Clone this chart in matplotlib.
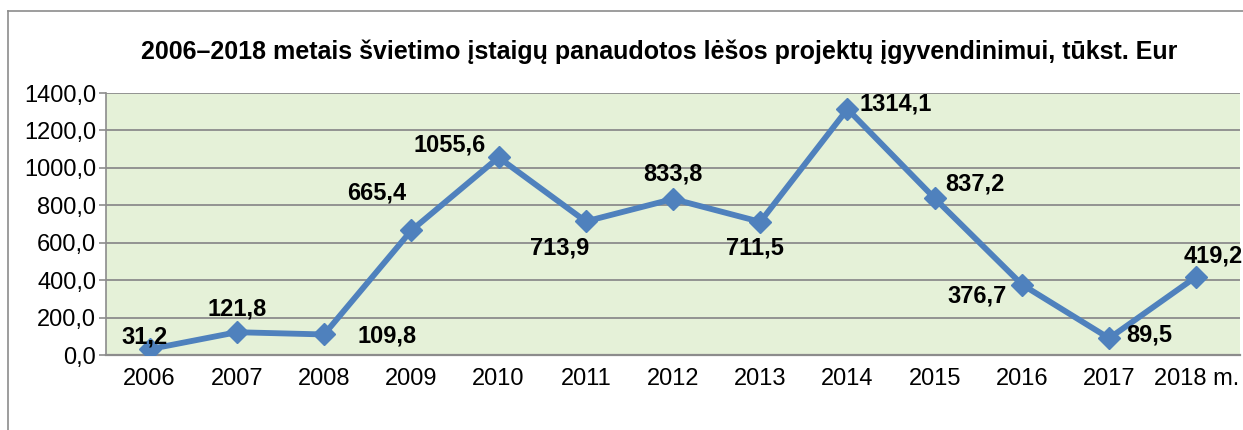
import matplotlib.pyplot as plt
from matplotlib.lines import Line2D

years = ["2006", "2007", "2008", "2009", "2010", "2011", "2012",
         "2013", "2014", "2015", "2016", "2017", "2018 m."]
values = [31.2, 121.8, 109.8, 665.4, 1055.6, 713.9, 833.8,
          711.5, 1314.1, 837.2, 376.7, 89.5, 419.2]
# label offsets from each point, in points (x right, y up)
label_offsets = [(-4, 9), (0, 17), (45, -1), (-25, 27), (-35, 9), (-19, -19),
                 (0, 18), (-4, -19), (35, 4), (29, 10), (-32, -8), (29, 2), (12, 15)]

plt.rcParams['font.family'] = ['Liberation Sans', 'DejaVu Sans']

fig = plt.figure(figsize=(12.43, 4.30), dpi=100)
ax = fig.add_axes([0.0853, 0.1744, 0.9123, 0.6093])
ax.set_facecolor('#E5F1D8')

# outer chart frame (left and top edges visible)
fig.add_artist(Line2D([8/1243, 8/1243], [0, 1 - 11/430], transform=fig.transFigure,
                      color='#8c8c8c', linewidth=1.2))
fig.add_artist(Line2D([8/1243, 1], [1 - 11/430, 1 - 11/430], transform=fig.transFigure,
                      color='#8c8c8c', linewidth=1.2))

x = list(range(len(years)))
ax.plot(x, values, color='#4F81BD', linewidth=4.2, marker='D', markersize=11,
        zorder=3)

for xi, v, (dx, dy) in zip(x, values, label_offsets):
    ax.annotate(f"{v:.1f}".replace('.', ','), (xi, v), xytext=(dx, dy),
                textcoords='offset points', ha='center', va='center',
                fontsize=17, fontweight='bold', zorder=4)

ax.set_xlim(-0.5, len(years) - 0.5)
ax.set_ylim(0, 1400)
ax.set_yticks(range(0, 1401, 200))
ax.set_yticklabels([f"{t:.1f}".replace('.', ',') for t in range(0, 1401, 200)])
ax.set_xticks(x)
ax.set_xticklabels(years)
ax.grid(axis='y', color='#8c8c8c', linewidth=1.3)
ax.set_axisbelow(True)

ax.tick_params(axis='y', labelsize=17, length=5, width=1.2, color='#8c8c8c', pad=2)
ax.tick_params(axis='x', labelsize=17, length=0, pad=9)

for s in ['top', 'right']:
    ax.spines[s].set_visible(False)
ax.spines['left'].set_color('#8c8c8c')
ax.spines['left'].set_linewidth(1.2)
ax.spines['bottom'].set_color('#8c8c8c')
ax.spines['bottom'].set_linewidth(1.6)

fig.text(0.530, 1 - 52/430,
         "2006–2018 metais švietimo įstaigų panaudotos lėšos projektų įgyvendinimui, tūkst. Eur",
         ha='center', va='center', fontsize=18, fontweight='bold')

fig.savefig('out.png', dpi=100)
